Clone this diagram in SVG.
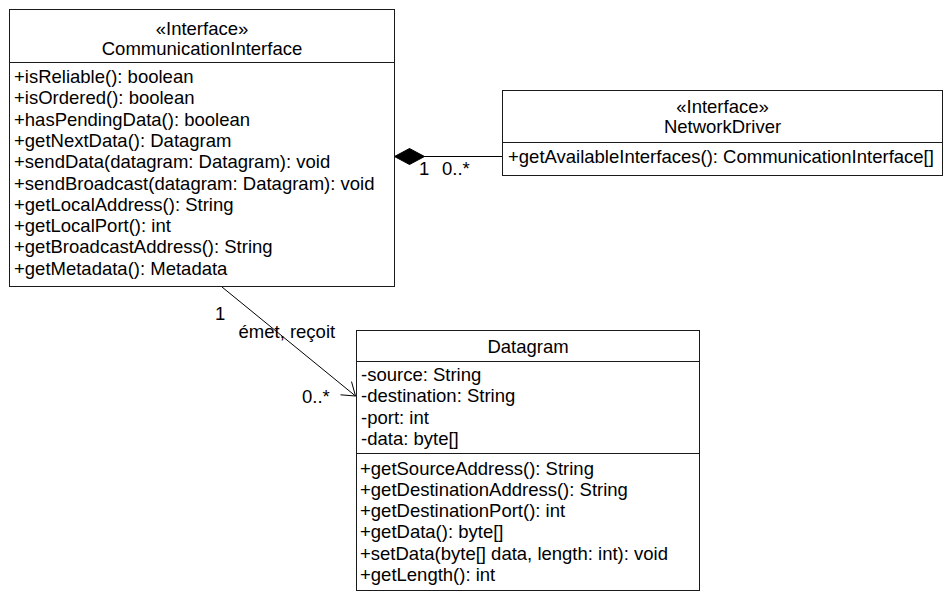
<svg xmlns="http://www.w3.org/2000/svg" width="944" height="592" viewBox="0 0 944 592">
<style>
  text { font-family: "Liberation Sans", Arial, Helvetica, sans-serif; font-size: 18.5px; fill: #000; }
  .c { text-anchor: middle; }
  .box { fill: #fff; stroke: #1a1a1a; stroke-width: 1; }
  .div { stroke: #1a1a1a; stroke-width: 1; }
  .edge { stroke: #000; stroke-width: 1; fill: none; }
</style>
<rect width="944" height="592" fill="#fff"/>
<g id="connectors">
  <line class="edge" x1="424" y1="156.5" x2="502.5" y2="156.5"/>
  <polygon points="394.5,156.5 409.5,148.5 424.5,156.5 409.5,164.5" fill="#000" stroke="#000" stroke-width="1"/>
  <text x="419" y="175">1</text>
  <text x="442" y="175">0..*</text>
  <line class="edge" x1="222" y1="287" x2="355.5" y2="396"/>
  <polyline class="edge" points="340.5,394.8 355.5,396 351.5,381.6"/>
  <text x="215" y="320">1</text>
  <text x="238.5" y="338">émet, reçoit</text>
  <text x="302" y="403">0..*</text>
</g>
<g id="CommunicationInterface">
  <rect class="box" x="9.5" y="9.5" width="385" height="277"/>
  <line class="div" x1="9.5" y1="62.5" x2="394.5" y2="62.5"/>
  <text class="c" x="202" y="35">«Interface»</text>
  <text class="c" x="202" y="55">CommunicationInterface</text>
  <text x="14" y="83">+isReliable(): boolean</text>
  <text x="14" y="104.3">+isOrdered(): boolean</text>
  <text x="14" y="125.6">+hasPendingData(): boolean</text>
  <text x="14" y="146.9">+getNextData(): Datagram</text>
  <text x="14" y="168.2">+sendData(datagram: Datagram): void</text>
  <text x="14" y="189.5">+sendBroadcast(datagram: Datagram): void</text>
  <text x="14" y="210.8">+getLocalAddress(): String</text>
  <text x="14" y="232.1">+getLocalPort(): int</text>
  <text x="14" y="253.4">+getBroadcastAddress(): String</text>
  <text x="14" y="274.7">+getMetadata(): Metadata</text>
</g>
<g id="NetworkDriver">
  <rect class="box" x="502.5" y="90.5" width="440" height="85"/>
  <line class="div" x1="502.5" y1="142.5" x2="942.5" y2="142.5"/>
  <text class="c" x="722.5" y="113">«Interface»</text>
  <text class="c" x="722.5" y="133">NetworkDriver</text>
  <text x="508" y="163">+getAvailableInterfaces(): CommunicationInterface[]</text>
</g>
<g id="Datagram">
  <rect class="box" x="356.5" y="330.5" width="343" height="260"/>
  <line class="div" x1="356.5" y1="361.5" x2="699.5" y2="361.5"/>
  <line class="div" x1="356.5" y1="453.5" x2="699.5" y2="453.5"/>
  <text class="c" x="528" y="353">Datagram</text>
  <text x="361" y="381">-source: String</text>
  <text x="361" y="402.3">-destination: String</text>
  <text x="361" y="423.6">-port: int</text>
  <text x="361" y="444.9">-data: byte[]</text>
  <text x="360" y="474.5">+getSourceAddress(): String</text>
  <text x="360" y="495.8">+getDestinationAddress(): String</text>
  <text x="360" y="517.1">+getDestinationPort(): int</text>
  <text x="360" y="538.4">+getData(): byte[]</text>
  <text x="360" y="559.7">+setData(byte[] data, length: int): void</text>
  <text x="360" y="581">+getLength(): int</text>
</g>
</svg>
